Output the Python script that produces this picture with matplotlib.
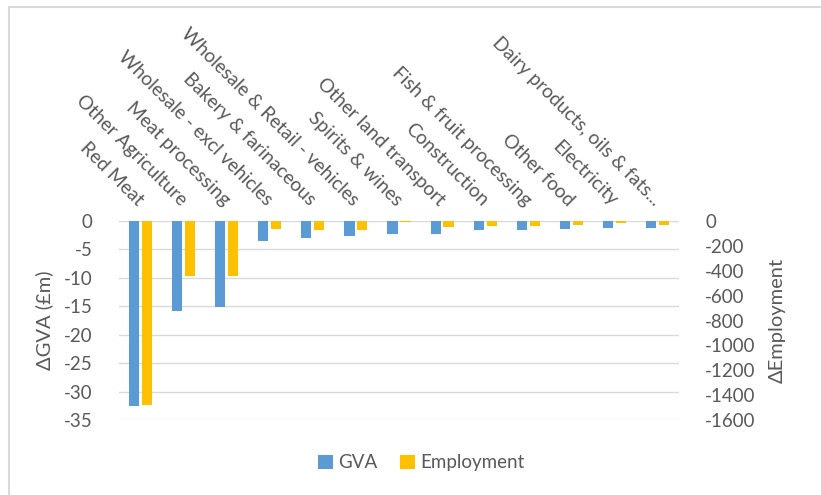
import numpy as np
import matplotlib
matplotlib.use("Agg")
import matplotlib.pyplot as plt
from matplotlib.patches import Rectangle

plt.rcParams['font.family'] = ['Lato', 'DejaVu Sans']
plt.rcParams['axes.unicode_minus'] = False

sectors = ["Red Meat", "Other Agriculture", "Meat processing",
           "Wholesale - excl vehicles", "Bakery & farinaceous",
           "Wholesale & Retail - vehicles", "Spirits & wines",
           "Other land transport", "Construction", "Fish & fruit processing",
           "Other food", "Electricity", "Dairy products, oils & fats..."]
gva = [-32.6, -15.9, -15.2, -3.5, -2.9, -2.7, -2.3, -2.2, -1.6, -1.6, -1.4, -1.2, -1.2]
employment = [-1480, -440, -440, -62, -72, -72, -10, -45, -38, -38, -30, -13, -30]

gva_ticks = [0, -5, -10, -15, -20, -25, -30, -35]
emp_ticks = [0, -200, -400, -600, -800, -1000, -1200, -1400, -1600]

blue = "#5B9BD5"
gold = "#FFC000"
txt = "#595959"
grid = "#D9D9D9"

fig = plt.figure(figsize=(8.21, 4.95), dpi=100)
ax = fig.add_axes([0.145, 0.1515, 0.682, 0.402])
ax2 = ax.twinx()

x = np.arange(len(sectors))
w = 0.235
ax.bar(x - 0.15, gva, width=w, color=blue, label="GVA", zorder=3)
ax2.bar(x + 0.15, employment, width=w, color=gold, label="Employment", zorder=3)

ax.set_xlim(-0.5, len(sectors) - 0.5)
ax.set_ylim(-35, 0)
ax2.set_ylim(-1600, 0)
ax.set_yticks(gva_ticks)
ax2.set_yticks(emp_ticks)

ax.yaxis.grid(True, color=grid, linewidth=1)
ax.set_axisbelow(True)
for a in (ax, ax2):
    for s in a.spines.values():
        s.set_visible(False)

ax.tick_params(axis='y', length=0, pad=19, labelsize=13.5, labelcolor=txt)
ax2.tick_params(axis='y', length=0, pad=19, labelsize=13.5, labelcolor=txt)

ax.set_xticks(x)
ax.xaxis.tick_top()
ax.tick_params(axis='x', length=0, pad=13, labelsize=13.8, labelcolor=txt)
ax.set_xticklabels(sectors, rotation=-45, ha='right', va='center',
                   rotation_mode='anchor')
ax2.tick_params(axis='x', top=False, labeltop=False, bottom=False, labelbottom=False)

ax.set_ylabel("\u0394GVA (\u00a3m)", fontsize=14.5, color=txt, labelpad=8)
ax2.set_ylabel("\u0394Employment", fontsize=14.5, color=txt, labelpad=9)

h1, l1 = ax.get_legend_handles_labels()
h2, l2 = ax2.get_legend_handles_labels()
fig.legend(h1 + h2, l1 + l2, loc='center', bbox_to_anchor=(0.513, 0.065),
           ncol=2, frameon=False, fontsize=13.5, labelcolor=txt,
           handlelength=0.8, handleheight=0.8, handletextpad=0.3,
           columnspacing=1.2)

fig.patches.append(Rectangle((9 / 821, -0.1), 1.2, 1.1 - 7 / 495,
                             transform=fig.transFigure, fill=False,
                             edgecolor=grid, linewidth=1.5))

fig.savefig("out.png", dpi=100)
